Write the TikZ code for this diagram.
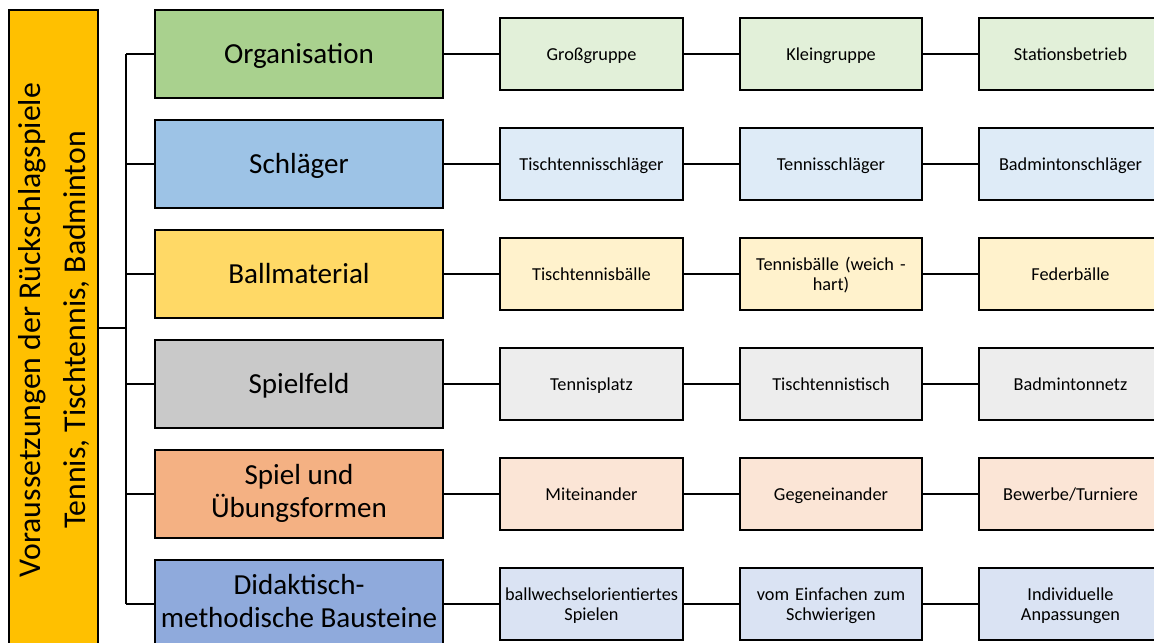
\documentclass[tikz,border=0pt]{standalone}
\usepackage{fontspec}
\setmainfont{Carlito}
\usetikzlibrary{positioning,calc}

\definecolor{rootfill}{HTML}{FFC000}
\definecolor{orgA}{HTML}{A9D18E}
\definecolor{orgB}{HTML}{E2F0D9}
\definecolor{schA}{HTML}{9DC3E6}
\definecolor{schB}{HTML}{DEEBF7}
\definecolor{balA}{HTML}{FFD966}
\definecolor{balB}{HTML}{FFF2CC}
\definecolor{felA}{HTML}{C9C9C9}
\definecolor{felB}{HTML}{EDEDED}
\definecolor{spiA}{HTML}{F4B183}
\definecolor{spiB}{HTML}{FBE5D6}
\definecolor{didA}{HTML}{8FAADC}
\definecolor{didB}{HTML}{DAE3F3}

% struts so that the capitals sit in the middle of the boxes
\newcommand\cattop{\rule{0pt}{19.5pt}}
\newcommand\catbot{\rule[-5pt]{0pt}{5pt}}
\newcommand\subtop{\rule{0pt}{13pt}}
\newcommand\subbot{\rule[-3.5pt]{0pt}{3.5pt}}

\begin{document}
\begin{tikzpicture}[x=0.75pt,y=-0.75pt,
  cat/.style={draw=black,line width=1.8pt,minimum width=216pt,minimum height=66pt,
    inner sep=0pt,align=center,font=\fontsize{21.8}{24.5}\selectfont,
    execute at begin node=\cattop,execute at end node=\catbot},
  sub/.style={draw=black,line width=1.5pt,minimum width=137pt,minimum height=54pt,
    inner sep=0pt,text width=135pt,align=center,font=\fontsize{13.7}{15}\selectfont,
    execute at begin node=\subtop,execute at end node=\subbot},
  conn/.style={line width=1.5pt}]
\useasboundingbox (0,0) rectangle (1154,643);
\clip (0,0) rectangle (1154,643);

% root box on the left
\node[draw=black,line width=1.8pt,fill=rootfill,minimum width=67pt,minimum height=507pt,
  inner sep=0pt] (root) at (53.5,348) {};
\node[rotate=90,align=center,font=\fontsize{23.8}{34}\selectfont] (roottext) at (54,330)
  {\strut Voraussetzungen der Rückschlagspiele\\Tennis, Tischtennis, Badminton\strut};

% categories
\node[cat,fill=orgA] (org) at (299,54) {Organisation};
\node[cat,fill=schA] (sch) at (299,164) {Schläger};
\node[cat,fill=balA] (bal) at (299,274) {Ballmaterial};
\node[cat,fill=felA] (fel) at (299,384) {Spielfeld};
\node[cat,fill=spiA] (spi) at (299,494) {Spiel und\\Übungsformen};
\node[cat,fill=didA] (did) at (299,604) {Didaktisch-\\methodische Bausteine};

% items per category
\node[sub,fill=orgB] (org1) at (591.5,54) {Großgruppe};
\node[sub,fill=orgB] (org2) at (831,54) {Kleingruppe};
\node[sub,fill=orgB] (org3) at (1070.5,54) {Stationsbetrieb};

\node[sub,fill=schB] (sch1) at (591.5,164) {Tischtennisschläger};
\node[sub,fill=schB] (sch2) at (831,164) {Tennisschläger};
\node[sub,fill=schB] (sch3) at (1070.5,164) {Badmintonschläger};

\node[sub,fill=balB] (bal1) at (591.5,274) {Tischtennisbälle};
\node[sub,fill=balB] (bal2) at (831,274) {Tennisbälle (weich -\\hart)};
\node[sub,fill=balB] (bal3) at (1070.5,274) {Federbälle};

\node[sub,fill=felB] (fel1) at (591.5,384) {Tennisplatz};
\node[sub,fill=felB] (fel2) at (831,384) {Tischtennistisch};
\node[sub,fill=felB] (fel3) at (1070.5,384) {Badmintonnetz};

\node[sub,fill=spiB] (spi1) at (591.5,494) {Miteinander};
\node[sub,fill=spiB] (spi2) at (831,494) {Gegeneinander};
\node[sub,fill=spiB] (spi3) at (1070.5,494) {Bewerbe/Turniere};

\node[sub,fill=didB] (did1) at (591.5,604) {ballwechselorientiertes\\Spielen};
\node[sub,fill=didB] (did2) at (831,604) {vom Einfachen zum\\Schwierigen};
\node[sub,fill=didB] (did3) at (1070.5,604) {Individuelle\\Anpassungen};

% tree lines
\coordinate (spine) at (126,328);
\draw[conn] (root.east |- spine) -- (spine);
\draw[conn] (spine |- org.west) -- (spine |- did.west);
\foreach \c in {org,sch,bal,fel,spi,did}{
  \draw[conn] (spine |- \c.west) -- (\c.west);
  \draw[conn] (\c.east) -- (\c1.west);
  \draw[conn] (\c1.east) -- (\c2.west);
  \draw[conn] (\c2.east) -- (\c3.west);
}
\end{tikzpicture}
\end{document}
